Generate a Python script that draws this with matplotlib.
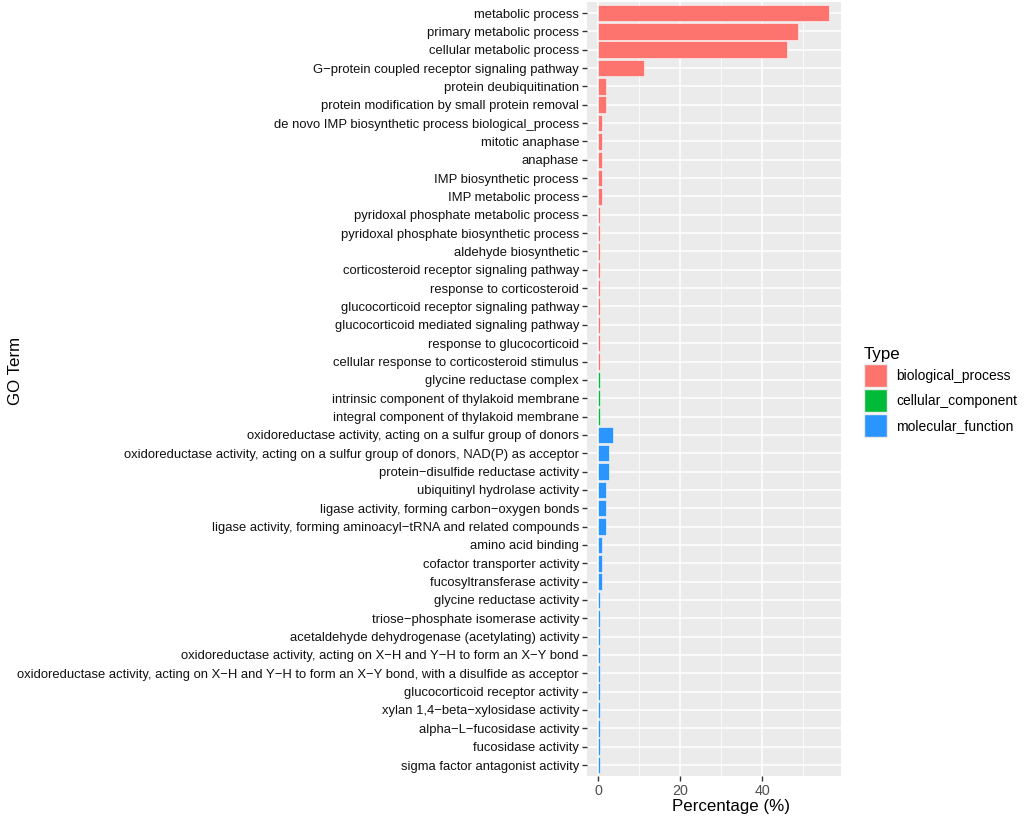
import matplotlib
matplotlib.use('Agg')
import matplotlib.pyplot as plt
from matplotlib.patches import Patch

plt.rcParams['font.family'] = ['Liberation Sans', 'DejaVu Sans']

# GO terms, top to bottom as drawn
terms = [
    'metabolic process',
    'primary metabolic process',
    'cellular metabolic process',
    'G\u2212protein coupled receptor signaling pathway',
    'protein deubiquitination',
    'protein modification by small protein removal',
    'de novo IMP biosynthetic process biological_process',
    'mitotic anaphase',
    'anaphase',
    'IMP biosynthetic process',
    'IMP metabolic process',
    'pyridoxal phosphate metabolic process',
    'pyridoxal phosphate biosynthetic process',
    'aldehyde biosynthetic',
    'corticosteroid receptor signaling pathway',
    'response to corticosteroid',
    'glucocorticoid receptor signaling pathway',
    'glucocorticoid mediated signaling pathway',
    'response to glucocorticoid',
    'cellular response to corticosteroid stimulus',
    'glycine reductase complex',
    'intrinsic component of thylakoid membrane',
    'integral component of thylakoid membrane',
    'oxidoreductase activity, acting on a sulfur group of donors',
    'oxidoreductase activity, acting on a sulfur group of donors, NAD(P) as acceptor',
    'protein\u2212disulfide reductase activity',
    'ubiquitinyl hydrolase activity',
    'ligase activity, forming carbon\u2212oxygen bonds',
    'ligase activity, forming aminoacyl\u2212tRNA and related compounds',
    'amino acid binding',
    'cofactor transporter activity',
    'fucosyltransferase activity',
    'glycine reductase activity',
    'triose\u2212phosphate isomerase activity',
    'acetaldehyde dehydrogenase (acetylating) activity',
    'oxidoreductase activity, acting on X\u2212H and Y\u2212H to form an X\u2212Y bond',
    'oxidoreductase activity, acting on X\u2212H and Y\u2212H to form an X\u2212Y bond, with a disulfide as acceptor',
    'glucocorticoid receptor activity',
    'xylan 1,4\u2212beta\u2212xylosidase activity',
    'alpha\u2212L\u2212fucosidase activity',
    'fucosidase activity',
    'sigma factor antagonist activity',
]

percent = [
    56.4, 48.9, 46.2, 11.1, 2.0, 2.0, 1.0, 1.0, 1.0, 1.0, 1.0,
    0.5, 0.5, 0.5, 0.5, 0.5, 0.5, 0.5, 0.5, 0.5,
    0.5, 0.5, 0.5,
    3.5, 2.5, 2.5, 2.0, 2.0, 2.0, 1.0, 1.0, 1.0,
    0.5, 0.5, 0.5, 0.5, 0.5, 0.5, 0.5, 0.5, 0.5, 0.5,
]

types = (['biological_process'] * 20 + ['cellular_component'] * 3
         + ['molecular_function'] * 19)

type_names = ['biological_process', 'cellular_component', 'molecular_function']
type_colors = {'biological_process': '#FD736D',
               'cellular_component': '#00BA38',
               'molecular_function': '#2B95FF'}

fig = plt.figure(figsize=(10.24, 8.16), dpi=100)
ax = fig.add_axes([0.573, 0.049, 0.248, 0.9485])
ax.set_facecolor('#EBEBEB')

n = len(terms)
ypos = [n - i for i in range(n)]
ax.barh(ypos, percent, height=0.9,
        color=[type_colors[t] for t in types],
        edgecolor='white', linewidth=0.4, zorder=3)

xmax = max(percent)
ax.set_xlim(-0.05 * xmax, 1.05 * xmax)
ax.set_ylim(0.4, n + 0.6)
ax.set_xticks([0, 20, 40])
ax.set_xticks([10, 30, 50], minor=True)
ax.set_yticks(ypos)
ax.set_yticklabels(terms)

ax.grid(which='major', color='white', linewidth=1.1, zorder=0)
ax.grid(which='minor', axis='x', color='white', linewidth=0.55, zorder=0)
ax.set_axisbelow(True)
for s in ax.spines.values():
    s.set_visible(False)

ax.tick_params(axis='both', which='major', colors='#333333', length=3.5,
               width=1, labelsize=9.35, labelcolor='#111111', pad=2)
ax.tick_params(axis='x', labelsize=10.3, labelcolor='#4D4D4D')
ax.tick_params(which='minor', length=0)

# axis titles placed like the ggplot original
fig.text(731 / 1024, 1 - 806 / 816, 'Percentage (%)', fontsize=12.2,
         ha='center', va='center')
fig.text(0.015, 0.545, 'GO Term', rotation=90, fontsize=12.2,
         ha='center', va='center')

handles = [Patch(facecolor=type_colors[t], edgecolor='#EBEBEB', label=t)
           for t in type_names]
leg = fig.legend(handles=handles, title='Type', loc='upper left',
                 bbox_to_anchor=(0.834, 0.587), frameon=False,
                 fontsize=10.0, title_fontsize=12.2, handlelength=1.65,
                 handleheight=2.15, labelspacing=0.17, handletextpad=0.7,
                 borderpad=0.2)
leg._legend_box.align = 'left'

fig.savefig('out.png', dpi=100)
